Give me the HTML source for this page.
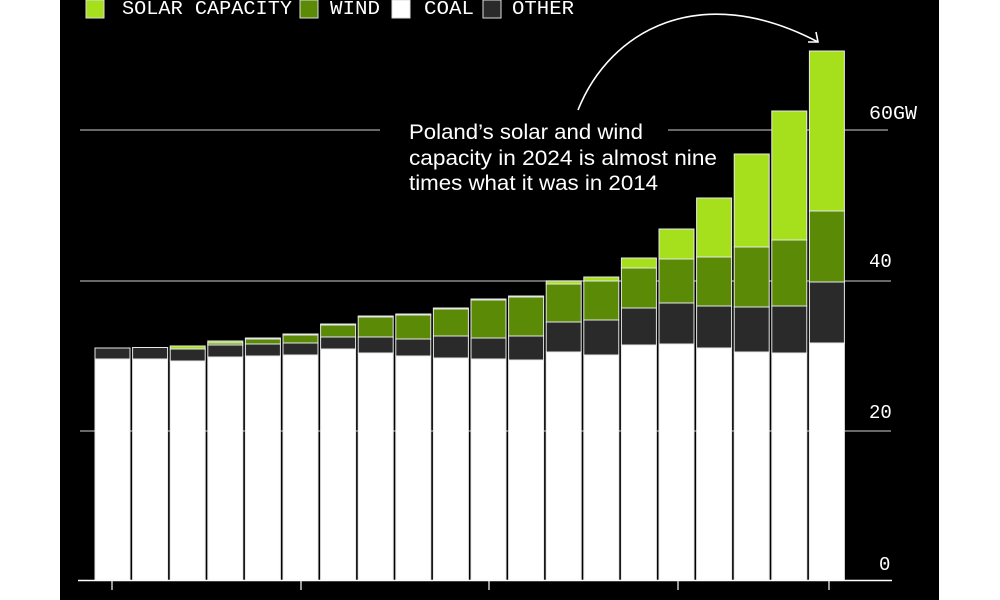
<!DOCTYPE html>
<html><head><meta charset="utf-8"><style>
html,body{margin:0;padding:0;background:#fff;}
svg{display:block;}
</style></head><body>
<svg width="1000" height="600" viewBox="0 0 1000 600" xmlns="http://www.w3.org/2000/svg">
<rect x="0" y="0" width="1000" height="600" fill="#fff"/>
<rect x="60" y="0" width="879" height="600" fill="#000"/>
<!-- gridlines -->
<g stroke="#8a8a8a" stroke-width="1.5">
<line x1="80" y1="130" x2="380" y2="130"/>
<line x1="668" y1="130" x2="888" y2="130"/>
<line x1="80" y1="281" x2="891" y2="281"/>
<line x1="80" y1="431" x2="891" y2="431"/>
</g>
<g id="bars" stroke="#e8e8e8" stroke-width="1"></g>
<!-- axis -->
<line x1="78" y1="580.5" x2="892" y2="580.5" stroke="#fff" stroke-width="1.5"/>
<g stroke="#fff" stroke-width="1.2">
<line x1="112" y1="581" x2="112" y2="590"/>
<line x1="301" y1="581" x2="301" y2="590"/>
<line x1="489" y1="581" x2="489" y2="590"/>
<line x1="678" y1="581" x2="678" y2="590"/>
<line x1="829" y1="581" x2="829" y2="590"/>
</g>
<!-- y labels -->
<g fill="#fff" font-family="Liberation Mono, monospace" font-size="19">
<text x="869" y="119" textLength="48" lengthAdjust="spacingAndGlyphs">60GW</text>
<text x="869" y="267">40</text>
<text x="869" y="418">20</text>
<text x="879" y="570">0</text>
</g>
<!-- legend -->
<g stroke="#ddd" stroke-width="1">
<rect x="86" y="0" width="18" height="18" fill="#a6e01c"/>
<rect x="300" y="0" width="18" height="18" fill="#5a8a06"/>
<rect x="392" y="0" width="18" height="18" fill="#ffffff"/>
<rect x="483" y="0" width="18" height="18" fill="#2a2a2a"/>
</g>
<g fill="#fff" font-family="Liberation Mono, monospace" font-size="19">
<text x="122" y="14" textLength="170" lengthAdjust="spacingAndGlyphs">SOLAR CAPACITY</text>
<text x="330" y="14" textLength="50" lengthAdjust="spacingAndGlyphs">WIND</text>
<text x="424" y="14" textLength="50" lengthAdjust="spacingAndGlyphs">COAL</text>
<text x="512" y="14" textLength="62" lengthAdjust="spacingAndGlyphs">OTHER</text>
</g>
<!-- annotation -->
<g fill="#fff" font-family="Liberation Sans, Arial, sans-serif" font-size="21">
<text x="409" y="139" textLength="234" lengthAdjust="spacingAndGlyphs">Poland’s solar and wind</text>
<text x="409" y="165" textLength="308" lengthAdjust="spacingAndGlyphs">capacity in 2024 is almost nine</text>
<text x="409" y="190" textLength="249" lengthAdjust="spacingAndGlyphs">times what it was in 2014</text>
</g>
<path d="M578,110 C610,30 700,-20 818,42" fill="none" stroke="#fff" stroke-width="1.6"/>
<path d="M808,42 L818,42 L816,32" fill="none" stroke="#fff" stroke-width="1.6"/>
<script>
var d=[
[348,348,348,359],[347.5,347.5,347.5,359],[346,349,349,361],[341,343,345,357],
[338,339,344,356],[334,335,343,355],[324,325,337,349],[316,317,337,353],
[314,315,339,356],[308,309,336,358],[299,300,338,359],[296,297,336,360],
[281,284,322,352],[277,281,320,355],[258,268,308,345],[229,259,303,344],
[198,257,306,348],[154,247,307,352],[111,240,306,353],[51,211,282,343]];
var g=document.getElementById('bars'),ns='http://www.w3.org/2000/svg';
function r(x,y1,y2,c){if(y2-y1<=0)return;var e=document.createElementNS(ns,'rect');
e.setAttribute('x',x);e.setAttribute('y',y1);e.setAttribute('width',35);e.setAttribute('height',y2-y1);e.setAttribute('fill',c);g.appendChild(e);}
for(var i=0;i<20;i++){var x=95+i*37.6,b=d[i];
r(x,b[0],b[1],'#a6e01c');r(x,b[1],b[2],'#5a8a06');r(x,b[2],b[3],'#2a2a2a');r(x,b[3],580,'#ffffff');}
</script>
</svg>
</body></html>
